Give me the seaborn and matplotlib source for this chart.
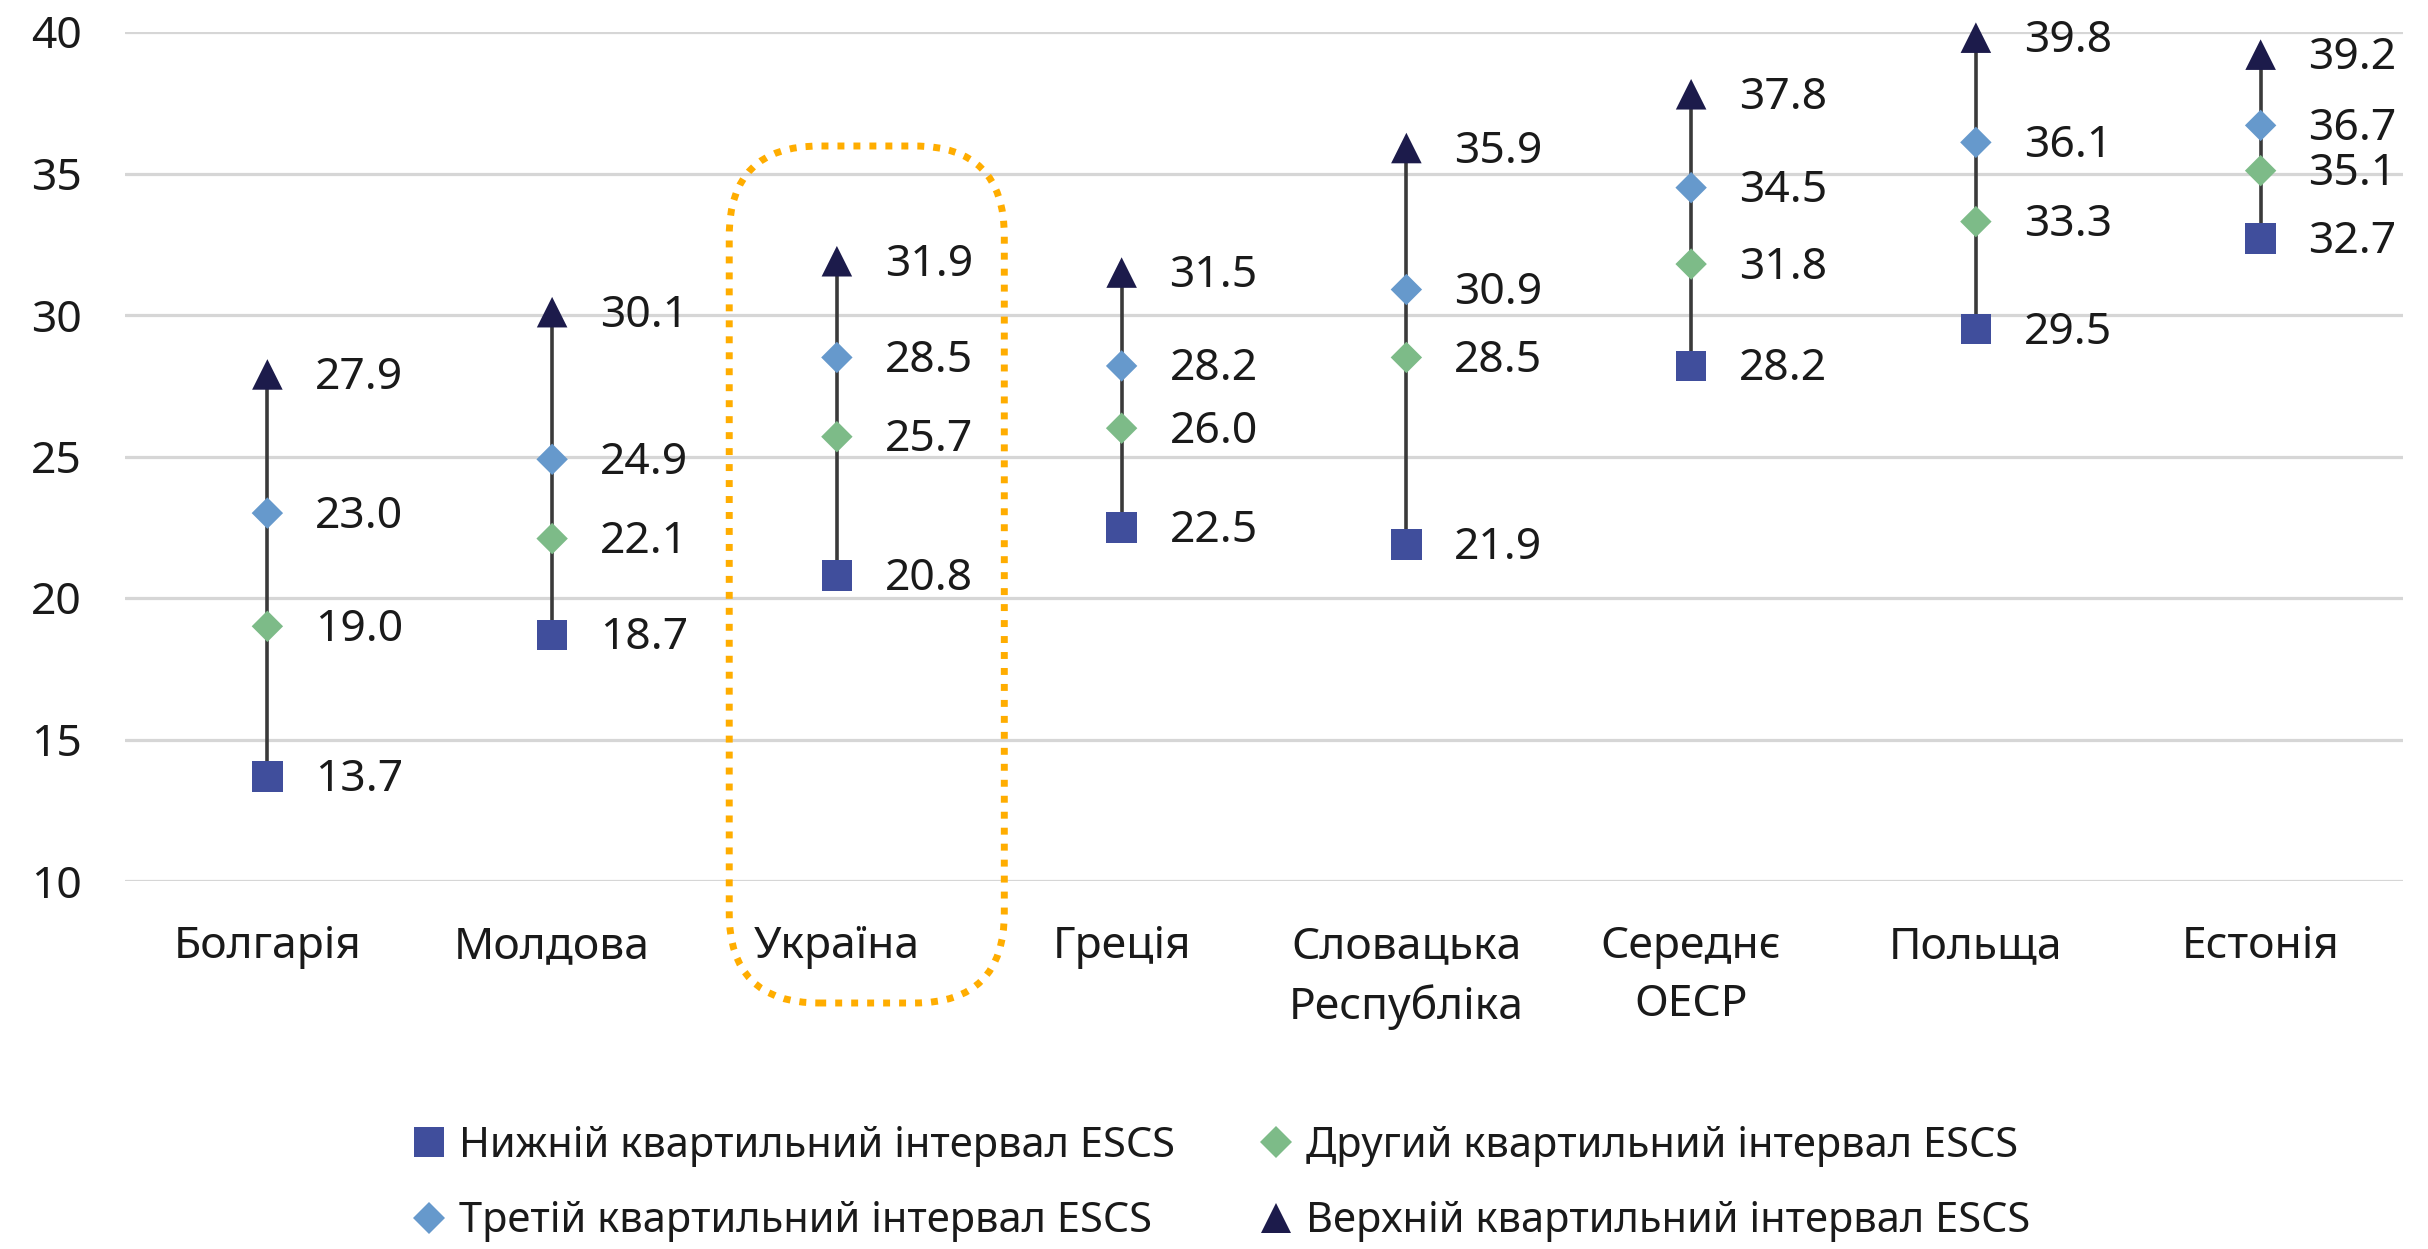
import numpy as np
import pandas as pd
import seaborn as sns
import matplotlib.pyplot as plt
from matplotlib.patches import FancyBboxPatch
from matplotlib.lines import Line2D

# Scores by ESCS quartile for each country
categories = ["Болгарія", "Молдова", "Україна", "Греція",
              "Словацька\nРеспубліка", "Середнє\nОЕСР", "Польща", "Естонія"]
bottom_q = [13.7, 18.7, 20.8, 22.5, 21.9, 28.2, 29.5, 32.7]
second_q = [19.0, 22.1, 25.7, 26.0, 28.5, 31.8, 33.3, 35.1]
third_q = [23.0, 24.9, 28.5, 28.2, 30.9, 34.5, 36.1, 36.7]
top_q = [27.9, 30.1, 31.9, 31.5, 35.9, 37.8, 39.8, 39.2]
series_labels = ["Нижній квартильний інтервал ESCS",
                 "Другий квартильний інтервал ESCS",
                 "Третій квартильний інтервал ESCS",
                 "Верхній квартильний інтервал ESCS"]
highlight = "Україна"

W, H, DPI = 2428, 1249, 100
sns.set_theme(style="white")
plt.rcParams['font.family'] = ['Noto Sans', 'DejaVu Sans']
TXT = '#1a1a1a'

pos = np.arange(len(categories))
df = pd.DataFrame({
    'pos': np.tile(pos, 4),
    'value': bottom_q + second_q + third_q + top_q,
    'series': np.repeat(series_labels, len(categories)),
})

styles = {
    series_labels[0]: dict(marker='s', color='#404E9C', ms=22),
    series_labels[1]: dict(marker='D', color='#7DBB88', ms=16),
    series_labels[2]: dict(marker='D', color='#6699CC', ms=16),
    series_labels[3]: dict(marker='^', color='#1C1B4B', ms=22),
}

fig = plt.figure(figsize=(W / DPI, H / DPI), dpi=DPI)
ax = fig.add_axes([125 / W, 1 - 881 / H, (2403 - 125) / W, (881 - 32) / H])

# gridlines
ax.set_ylim(10, 40)
ax.set_xlim(-0.5, len(categories) - 0.5)
ax.set_yticks(np.arange(10, 41, 5))
ax.yaxis.grid(True, color='#d6d6d6', linewidth=2.3)
ax.set_axisbelow(True)
for s in ax.spines.values():
    s.set_visible(False)

# range line joining lowest and highest quartile
span = df.groupby('pos')['value'].agg(['min', 'max']).reset_index()
ax.vlines(span['pos'], span['min'], span['max'], color='#3a3a3a', linewidth=2.6, zorder=2)

for lab in series_labels:
    st = styles[lab]
    sub = df[df['series'] == lab]
    sns.scatterplot(data=sub, x='pos', y='value', ax=ax, marker=st['marker'],
                    color=st['color'], s=st['ms'] ** 2, edgecolor='none',
                    linewidth=0, zorder=3, clip_on=False, legend=False)
    for xv, yv in zip(sub['pos'], sub['value']):
        ax.annotate(f"{yv:.1f}", (xv, yv), xytext=(34.5, -2.5), textcoords='offset points',
                    va='center', ha='left', fontsize=32, color=TXT)

ax.set_xticks(pos)
ax.set_xticklabels(categories, fontsize=32, color=TXT, linespacing=1.42)
ax.tick_params(axis='x', length=0, pad=32)
ax.tick_params(axis='y', length=0, pad=31, labelsize=32, labelcolor=TXT)
ax.set_xlabel('')
ax.set_ylabel('')

# dotted rounded frame around the highlighted country
hi = categories.index(highlight)
px_x = (2403 - 125) / len(categories)
px_y = (881 - 32) / 30
x0, x1 = hi - 0.378, hi + 0.588
y0, y1 = 10 - (1003 - 881) / px_y, 40 - (146 - 32) / px_y
rad = 90 / px_x
frame = FancyBboxPatch((x0, y0), x1 - x0, (y1 - y0) / (px_x / px_y),
                       boxstyle=f"round,pad=0,rounding_size={rad}",
                       mutation_aspect=px_x / px_y,
                       fill=False, edgecolor='#FFAD00', linewidth=5,
                       linestyle=(0, (1, 1.3)), clip_on=False, zorder=4)
frame.set_height(y1 - y0)
ax.add_patch(frame)

# legend
handles = [Line2D([], [], linestyle='none', marker=styles[l]['marker'],
                  color=styles[l]['color'], markersize=styles[l]['ms'],
                  markeredgewidth=0) for l in series_labels]
order = [0, 2, 1, 3]
fig.legend([handles[i] for i in order], [series_labels[i] for i in order],
           ncol=2, loc='upper left', bbox_to_anchor=(408 / W, 1 - 1125 / H),
           frameon=False, fontsize=30, handlelength=1.0, handletextpad=0.23,
           columnspacing=1.91, labelspacing=0.80, borderpad=0, borderaxespad=0,
           labelcolor=TXT)

fig.savefig('out.png', dpi=DPI)
